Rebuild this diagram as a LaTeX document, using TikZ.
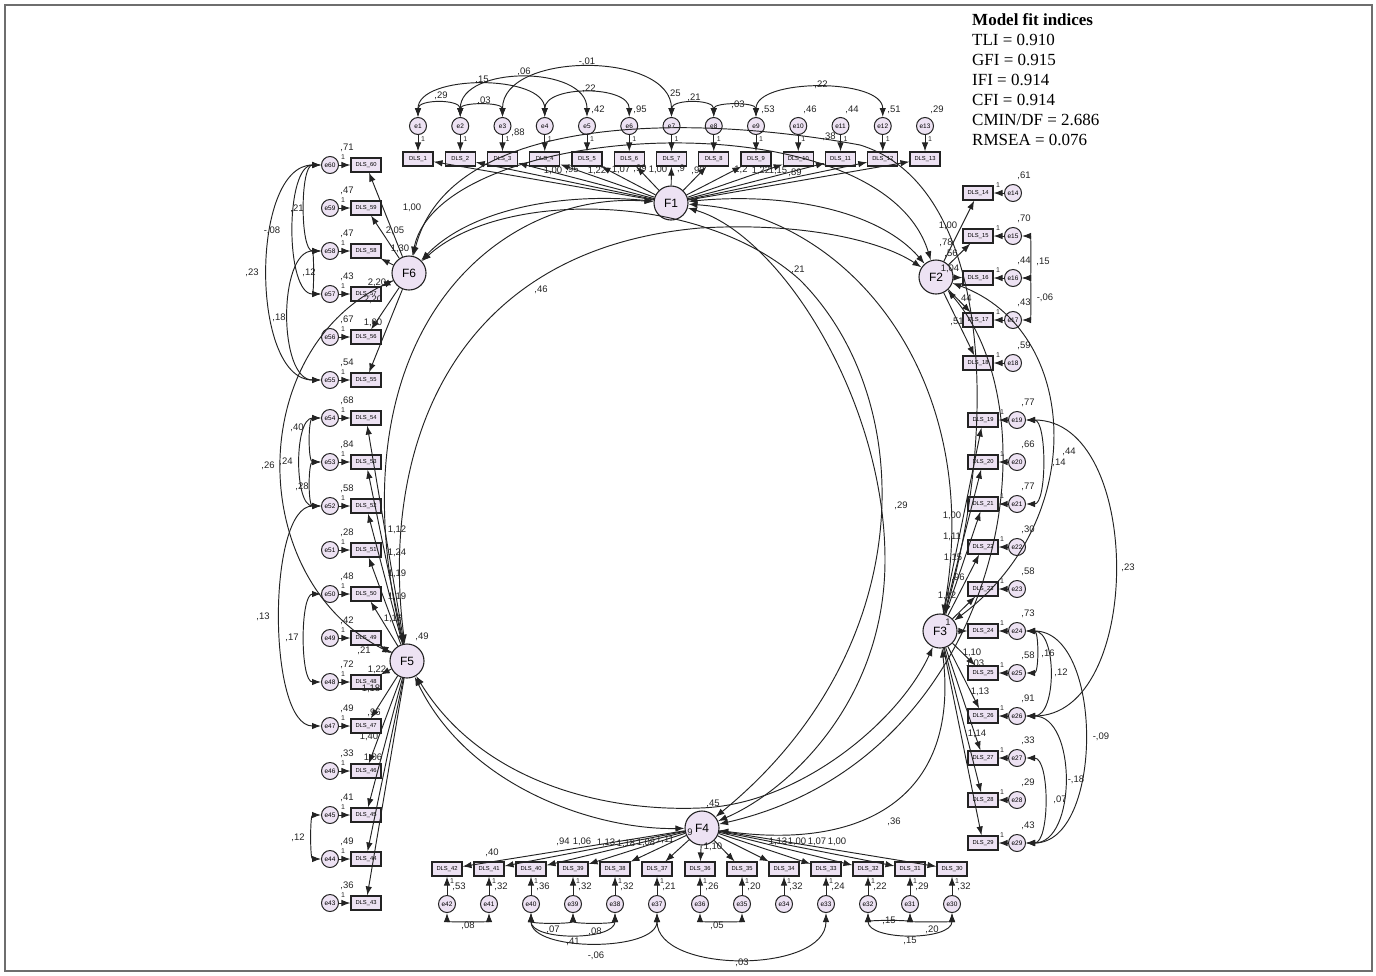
\documentclass[tikz,border=0pt]{standalone}
\usepackage{fontspec}
\setmainfont{Liberation Serif}
\newfontfamily\labfont{Liberation Sans}
\usetikzlibrary{arrows.meta}
\definecolor{nfill}{RGB}{237,226,243}
\definecolor{ink}{RGB}{35,35,35}
\definecolor{framegray}{RGB}{110,110,110}
\newcommand\covup[3]{\draw[cov] (#1) .. controls +(0,-#3) and +(0,-#3) .. (#2);}
\newcommand\covdn[3]{\draw[cov] (#1) .. controls +(0,#3) and +(0,#3) .. (#2);}
\newcommand\covlf[3]{\draw[cov] (#1) .. controls +(-#3,0) and +(-#3,0) .. (#2);}
\newcommand\covrt[3]{\draw[cov] (#1) .. controls +(#3,0) and +(#3,0) .. (#2);}
\begin{document}
\begin{tikzpicture}[x=1pt,y=-1pt,
  ind/.style={draw=ink, line width=1.1pt, fill=nfill, minimum width=30pt, minimum height=14pt, inner sep=0pt, font=\labfont\fontsize{5.8}{5.8}\selectfont},
  err/.style={circle, draw=ink, line width=1pt, fill=nfill, minimum size=17pt, inner sep=0pt, font=\labfont\fontsize{6.5}{6.5}\selectfont},
  fac/.style={circle, draw=ink, line width=1.1pt, fill=nfill, minimum size=34pt, inner sep=0pt, font=\labfont\fontsize{12}{12}\selectfont},
  arr/.style={-{Latex[length=9pt,width=6.5pt]}, draw=ink, line width=0.95pt},
  cov/.style={{Latex[length=9pt,width=6.5pt]}-{Latex[length=9pt,width=6.5pt]}, draw=ink, line width=0.95pt},
  lbl/.style={font=\labfont\fontsize{9.5}{9.5}\selectfont, text=ink, inner sep=0pt},
  one/.style={font=\labfont\fontsize{7}{7}\selectfont, text=ink, inner sep=0pt},
  fit/.style={anchor=base west, inner sep=0pt, font=\fontsize{17}{20}\selectfont},
]
\useasboundingbox (0,0) rectangle (1376,975);
\draw[draw=framegray, line width=1.2pt] (5,5) rectangle (1372,971);

% ---------- factors
\node[fac] (F1) at (671,203) {F1};
\node[fac] (F2) at (936,277) {F2};
\node[fac] (F3) at (940,631) {F3};
\node[fac] (F4) at (702,828) {F4};
\node[fac] (F5) at (407,661) {F5};
\node[fac] (F6) at (409,273) {F6};

% ---------- top indicators (F1)
\foreach \i in {1,...,13}{
  \pgfmathsetmacro\xx{418+42.25*(\i-1)}
  \node[ind] (d\i) at (\xx,159) {DLS\_\i};
  \node[err] (e\i) at (\xx,126) {e\i};
  \node[one] (o\i) at (\xx+5,139) {1};
}
% ---------- left indicators (F6, F5)
\foreach \n/\y/\v in {60/165/71,59/208/47,58/251/47,57/294/43,56/337/67,55/380/54,54/418/68,53/462/84,52/506/58,51/550/28,50/594/48,49/638/42,48/682/72,47/726/49,46/771/33,45/815/41,44/859/49,43/903/36}{
  \node[ind] (d\n) at (366,\y) {DLS\_\n};
  \node[err] (e\n) at (330,\y) {e\n};
  \node[one] (o\n) at (343,\y-8) {1};
  \node[lbl] (v\n) at (347,\y-17) {,\v};
}
% ---------- right indicators (F2)
\foreach \n/\y/\v in {14/193/61,15/236/70,16/278/44,17/320/43,18/363/59}{
  \node[ind] (d\n) at (978,\y) {DLS\_\n};
  \node[err] (e\n) at (1013,\y) {e\n};
  \node[one] (o\n) at (998,\y-8) {1};
  \node[lbl] (v\n) at (1024,\y-17) {,\v};
}
% ---------- right indicators (F3)
\foreach \n/\y/\v in {19/420/77,20/462/66,21/504/77,22/547/30,23/589/58,24/631/73,25/673/58,26/716/91,27/758/33,28/800/29,29/843/43}{
  \node[ind] (d\n) at (983,\y) {DLS\_\n};
  \node[err] (e\n) at (1017,\y) {e\n};
  \node[one] (o\n) at (1002,\y-8) {1};
  \node[lbl] (v\n) at (1028,\y-17) {,\v};
}
% ---------- bottom indicators (F4)
\foreach \n/\x/\v in {42/447/53,41/489/32,40/531/36,39/573/32,38/615/32,37/657/21,36/700/26,35/742/20,34/784/32,33/826/24,32/868/22,31/910/29,30/952/32}{
  \node[ind] (d\n) at (\x,869) {DLS\_\n};
  \node[err] (e\n) at (\x,904) {e\n};
  \node[one] (o\n) at (\x+5,881) {1};
  \node[lbl] (v\n) at (\x+12,887) {,\v};
}

% ---------- error paths and loadings
\foreach \i in {1,...,13}{\draw[arr] (e\i) -- (d\i); \draw[arr] (F1) -- (d\i);}
\foreach \i in {14,...,18}{\draw[arr] (e\i) -- (d\i); \draw[arr] (F2) -- (d\i);}
\foreach \i in {19,...,29}{\draw[arr] (e\i) -- (d\i); \draw[arr] (F3) -- (d\i);}
\foreach \i in {30,...,42}{\draw[arr] (e\i) -- (d\i); \draw[arr] (F4) -- (d\i);}
\foreach \i in {43,...,54}{\draw[arr] (e\i) -- (d\i); \draw[arr] (F5) -- (d\i);}
\foreach \i in {55,...,60}{\draw[arr] (e\i) -- (d\i); \draw[arr] (F6) -- (d\i);}

% ---------- error covariances: top
\covup{e1}{e2}{27}
\covup{e2}{e3}{24}
\covup{e1}{e4}{52}
\covup{e2}{e5}{61}
\covup{e3}{e7}{75}
\covup{e4}{e6}{41}
\covup{e7}{e8}{27}
\covup{e8}{e9}{24}
\covup{e9}{e12}{48}
% left
\covlf{e60}{e58}{30}
\covlf{e60}{e57}{45}
\covlf{e60}{e55}{80}
\covlf{e58}{e55}{52}
\covlf{e58}{e57}{16}
\covlf{e54}{e53}{22}
\covlf{e53}{e52}{22}
\covlf{e54}{e52}{36}
\covlf{e52}{e47}{63}
\covlf{e50}{e48}{30}
\covlf{e45}{e44}{20}
% right
\covrt{e15}{e16}{18}
\covrt{e16}{e17}{18}
\covrt{e19}{e21}{30}
\covrt{e19}{e26}{127}
\covrt{e24}{e25}{22}
\covrt{e24}{e26}{40}
\covrt{e24}{e29}{87}
\covrt{e26}{e29}{60}
\covrt{e27}{e29}{33}
% bottom
\covdn{e42}{e41}{18}
\covdn{e40}{e39}{20}
\covdn{e39}{e38}{20}
\covdn{e40}{e38}{37}
\covdn{e40}{e37}{48}
\covdn{e37}{e33}{70}
\covdn{e36}{e35}{18}
\covdn{e32}{e31}{16}
\covdn{e31}{e30}{18}
\covdn{e32}{e30}{37}

% ---------- factor covariances
\draw[cov] (F1) .. controls (560,192) and (470,210) .. (F6);
\draw[cov] (F1) .. controls (790,192) and (880,212) .. (F2);
\draw[cov] (F6) .. controls (440,120) and (880,95) .. (F2);
\draw[cov] (F6) .. controls (450,110) and (700,115) .. (860,145) .. controls (990,185) and (1000,420) .. (F3);
\draw[cov] (F6) .. controls (500,190) and (700,190) .. (800,280) .. controls (920,400) and (920,650) .. (F4);
\draw[cov] (F1) .. controls (780,235) and (885,400) .. (885,560) .. controls (885,700) and (790,790) .. (F4);
\draw[cov] (F5) .. controls (380,450) and (450,250) .. (700,228) .. controls (800,222) and (880,240) .. (F2);
\draw[cov] (F1) .. controls (500,190) and (330,330) .. (F5);
\draw[cov] (F1) .. controls (850,215) and (985,380) .. (F3);
\draw[cov] (F2) .. controls (1080,330) and (1090,520) .. (F3);
\draw[cov] (F2) .. controls (1060,420) and (1000,760) .. (F4);
\draw[cov] (F3) .. controls (960,800) and (860,850) .. (F4);
\draw[cov] (F5) .. controls (480,780) and (600,812) .. (700,808) .. controls (800,805) and (900,720) .. (F3);
\draw[cov] (F5) .. controls (470,790) and (600,830) .. (F4);
\draw[cov] (F6) .. controls (245,350) and (245,580) .. (F5);

% ---------- labels: top
\foreach \x/\y/\t [count=\k] in {441/96/{,29},482/80/{,15},524/72/{,06},587/62/{-,01},589/89/{,22},484/101/{,03},674/94/{,25},694/98/{,21},738/105/{,03},821/85/{,22},518/133/{,88},829/137/{,38},598/110/{,42},640/110/{,95},768/110/{,53},810/110/{,46},852/110/{,44},894/110/{,51},937/110/{,29}}
  \node[lbl] (ta\k) at (\x,\y) {\t};
\foreach \x/\y/\t [count=\k] in {553/171/{1,00},572/170/{,95},597/171/{1,22},621/170/{1,07},640/169/{,99},658/170/{1,00},681/169/{,9},698/171/{,90},741/170/{1,2},761/171/{1,22},778/171/{1,15},795/173/{,89}}
  \node[lbl] (tb\k) at (\x,\y) {\t};
% left
\foreach \x/\y/\t [count=\k] in {297/209/{,21},272/231/{-,08},252/273/{,23},309/273/{,12},279/318/{,18},297/428/{,40},286/462/{,24},302/487/{,28},268/466/{,26},263/617/{,13},292/638/{,17},298/838/{,12},412/208/{1,00},395/231/{2,05},400/249/{1,30},377/283/{2,20},373/300/{2,20},373/323/{1,00},397/530/{1,12},397/553/{1,24},397/574/{1,19},397/597/{1,19},393/619/{1,16},364/651/{,21},377/670/{1,22},371/689/{1,18},374/713/{,96},369/737/{1,40},373/758/{1,06},422/637/{,49}}
  \node[lbl] (tc\k) at (\x,\y) {\t};
% right
\foreach \x/\y/\t [count=\k] in {948/226/{1,00},946/243/{,78},951/254/{,56},950/269/{1,04},965/299/{,44},957/322/{,51},1043/262/{,15},1045/298/{-,06},952/516/{1,00},952/537/{1,11},953/558/{1,15},958/578/{,96},947/596/{1,12},948/622/{1},972/653/{1,10},975/664/{1,03},980/692/{1,13},977/734/{1,14},1069/452/{,44},1059/463/{,14},1128/568/{,23},1048/654/{,16},1061/673/{,12},1101/737/{-,09},1076/780/{-,18},1060/800/{,07}}
  \node[lbl] (td\k) at (\x,\y) {\t};
% bottom and centre
\foreach \x/\y/\t [count=\k] in {468/926/{,08},553/930/{,07},595/932/{,08},573/942/{,41},596/956/{-,06},742/963/{,03},717/926/{,05},889/921/{,15},932/930/{,20},910/941/{,15},563/842/{,94},582/842/{1,06},606/843/{1,13},626/844/{1,18},646/843/{1,08},665/840/{1,11},492/853/{,40},713/847/{1,10},778/842/{1,13},797/842/{1,00},817/842/{1,07},837/842/{1,00},713/804/{,45},690/832/{9},541/290/{,46},798/270/{,21},901/506/{,29},894/822/{,36}}
  \node[lbl] (te\k) at (\x,\y) {\t};

% ---------- model fit
\node[fit] (fit0) at (972,25) {\textbf{Model fit indices}};
\node[fit] (fit1) at (972,45) {TLI = 0.910};
\node[fit] (fit2) at (972,65) {GFI = 0.915};
\node[fit] (fit3) at (972,85) {IFI = 0.914};
\node[fit] (fit4) at (972,105) {CFI = 0.914};
\node[fit] (fit5) at (972,125) {CMIN/DF = 2.686};
\node[fit] (fit6) at (972,145) {RMSEA = 0.076};
\end{tikzpicture}
\end{document}
